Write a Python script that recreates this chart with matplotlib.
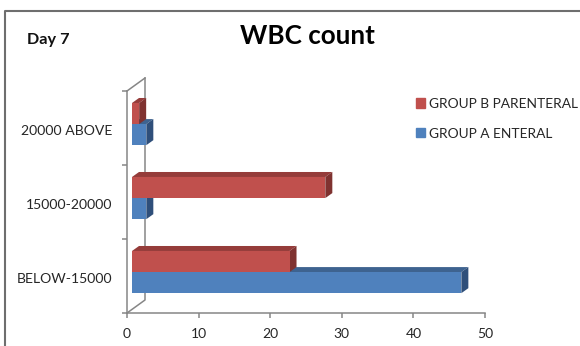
import numpy as np
import matplotlib
matplotlib.use('Agg')
import matplotlib.pyplot as plt
from matplotlib.patches import Polygon, Patch

plt.rcParams['font.family'] = ['Lato', 'DejaVu Sans']

categories = ['BELOW-15000', '15000-20000', '20000 ABOVE']
group_a = [46, 2, 2]
group_b = [22, 27, 1]
xticks = [0, 10, 20, 30, 40, 50]

W, H = 580, 346
AX_L, AX_R, AX_T, AX_B = 127, 485, 91, 313

blue, blue_top, blue_side = '#4f81bd', '#3e6390', '#2f4f7a'
red, red_top, red_side = '#c0504d', '#953c3a', '#7f3230'
grey = '#868686'

fig = plt.figure(figsize=(W / 100, H / 100), dpi=100)
ax = fig.add_axes([AX_L / W, 1 - AX_B / H, (AX_R - AX_L) / W, (AX_B - AX_T) / H])
ax.set_xlim(0, 50)
ax.set_ylim(0, 3)

# pixel sizes turned into data units
px_x = 50 / (AX_R - AX_L)
px_y = 3 / (AX_B - AX_T)
start = 5 * px_x
depth_x = 7 * px_x
depth_y = 5 * px_y
bar_h = 0.285
y = np.arange(3) + 0.5


def bar3d(ys, vals, front, top, side, z):
    ax.barh(ys, vals, height=bar_h, left=start, align='edge', color=front,
            linewidth=0, zorder=z)
    for yy, v in zip(ys, vals):
        x1 = start + v
        ax.add_patch(Polygon([(start, yy + bar_h), (x1, yy + bar_h),
                              (x1 + depth_x, yy + bar_h + depth_y),
                              (start + depth_x, yy + bar_h + depth_y)],
                             color=top, lw=0, zorder=z - 0.5, clip_on=False))
        ax.add_patch(Polygon([(x1, yy), (x1, yy + bar_h),
                              (x1 + depth_x, yy + bar_h + depth_y),
                              (x1 + depth_x, yy + depth_y)],
                             color=side, lw=0, zorder=z - 0.5, clip_on=False))


# back wall of the 3d box
wall_x = 18 * px_x
wall_y = 13 * px_y
ax.plot([0, wall_x, wall_x], [0, wall_y, 3 + wall_y], color=grey, lw=1.1, zorder=1, clip_on=False)
ax.plot([0, wall_x], [3, 3 + wall_y], color=grey, lw=1.1, zorder=1, clip_on=False)

# drawn bottom up so nearer bars sit on top
for i in [2, 1, 0]:
    bar3d([y[i] + 0.053 - bar_h], [group_a[i]], blue, blue_top, blue_side, 3 + (2 - i) * 2)
    bar3d([y[i] + 0.053], [group_b[i]], red, red_top, red_side, 4 + (2 - i) * 2)

ax.set_xticks(xticks)
ax.set_yticks([0, 1, 2, 3])
ax.set_yticklabels([])
ax.tick_params(axis='both', color=grey, width=1.1, length=3.5, labelsize=10,
               labelcolor='#262626')
ax.tick_params(axis='x', pad=7.5)
for s in ['top', 'right']:
    ax.spines[s].set_visible(False)
for s in ['left', 'bottom']:
    ax.spines[s].set_color(grey)
    ax.spines[s].set_linewidth(1.1)

# category labels sit mid-way between the ticks
for yy, c in zip(y, categories):
    ax.annotate(c, (0, yy), xytext=(-15, -3), textcoords='offset pixels', ha='right',
                va='center', fontsize=10.1, color='#262626')

fig.text(307.5 / W, 1 - 36 / H, 'WBC count', ha='center', va='center', fontsize=18.7,
         fontweight='bold', color='black')
fig.text(27 / W, 1 - 40 / H, 'Day 7', ha='left', va='center', fontsize=11.7,
         fontweight='bold', color='#111111')

handles = [Patch(color=red, label='GROUP B PARENTERAL'), Patch(color=blue, label='GROUP A ENTERAL')]
fig.legend(handles=handles, loc='upper left', bbox_to_anchor=(416 / W, 1 - 98 / H), frameon=False,
           fontsize=9.95, handlelength=0.66, handleheight=0.66, handletextpad=0.3,
           labelspacing=1.28, borderpad=0, borderaxespad=0, labelcolor='#262626')

# outer frame of the pasted picture, only top and left show
fig.add_artist(plt.Line2D([5 / W, 5 / W, 1], [0, 1 - 11 / H, 1 - 11 / H], color='#6e6e6e', lw=1.5))

fig.savefig('out.png', dpi=100)
